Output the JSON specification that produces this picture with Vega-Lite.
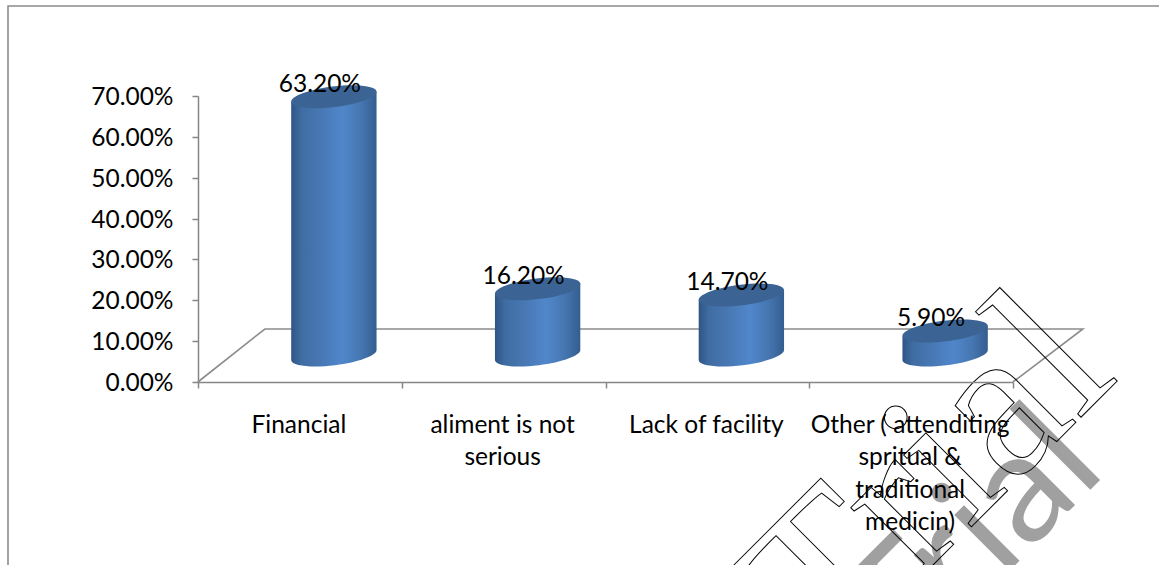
{
  "$schema": "https://vega.github.io/schema/vega-lite/v6.json",
  "width": 1153,
  "height": 561,
  "padding": {"left": 8, "top": 6, "right": -2, "bottom": -2},
  "autosize": {"type": "none"},
  "background": "#ffffff",
  "view": {"stroke": "#8c8c8c", "strokeWidth": 1.6, "fill": "#ffffff"},
  "config": {"font": "Lato"},
  "data": {
    "values": [
      {"reason": "Financial", "share": 0.632},
      {"reason": "aliment is not serious", "share": 0.162},
      {"reason": "Lack of facility", "share": 0.147},
      {"reason": "Other ( attenditing spritual & traditional medicin)", "share": 0.059}
    ]
  },
  "encoding": {
    "x": {
      "field": "reason",
      "type": "nominal",
      "sort": ["Financial", "aliment is not serious", "Lack of facility", "Other ( attenditing spritual & traditional medicin)"],
      "title": null,
      "scale": {"type": "band", "range": [190, 1005], "paddingInner": 0, "paddingOuter": 0},
      "axis": {
        "orient": "bottom",
        "offset": -185,
        "zindex": 1,
        "labelAngle": 0,
        "labelFont": "Lato",
        "labelFontSize": 24.5,
        "labelColor": "#000000",
        "labelPadding": 25,
        "labelOffset": -1.5,
        "labelLimit": 400,
        "labelLineHeight": 32.5,
        "labelOverlap": false,
        "labelExpr": "datum.label == 'aliment is not serious' ? ['aliment is not', 'serious'] : indexof(datum.label, 'Other') == 0 ? ['Other ( attenditing', 'spritual &', 'traditional', 'medicin)'] : datum.label",
        "tickBand": "extent",
        "tickSize": 6,
        "tickColor": "#868686",
        "tickWidth": 1.5,
        "domainColor": "#868686",
        "domainWidth": 1.5
      }
    },
    "y": {
      "field": "share",
      "type": "quantitative",
      "title": null,
      "scale": {"domain": [0, 0.7], "range": [376, 90], "nice": false},
      "axis": {
        "orient": "left",
        "offset": -190,
        "values": [0, 0.1, 0.2, 0.3, 0.4, 0.5, 0.6, 0.7],
        "format": ".2%",
        "grid": false,
        "labelFont": "Lato",
        "labelFontSize": 24.5,
        "labelColor": "#000000",
        "labelPadding": 19,
        "labelOffset": 1.5,
        "tickSize": 6,
        "tickColor": "#868686",
        "tickWidth": 1.5,
        "domainColor": "#868686",
        "domainWidth": 1.5
      }
    }
  },
  "layer": [
    {
      "description": "Floor of the 3D plot, anchored at the zero line",
      "data": {"values": [{"reason": "Financial", "share": 0}]},
      "mark": {
        "type": "point",
        "filled": false,
        "opacity": 1,
        "stroke": "#8c8c8c",
        "strokeWidth": 1.6,
        "size": 4,
        "shape": "M-102,0 L-35,-53 L783,-53 L713,0"
      }
    },
    {
      "description": "Cylinder body, its height taken from the y scale",
      "mark": {
        "type": "point",
        "filled": true,
        "opacity": 1,
        "size": 7396,
        "xOffset": 34,
        "yOffset": -27,
        "shape": {"expr": "'M0.9925,-0.1219 L-0.9925,0.1219 l0,' + ((scale('y', 0) - scale('y', datum.share)) / 43) + ' c0.0161,0.1316 0.4735,0.1836 1.0217,0.1163 c0.5482,-0.0673 0.9794,-0.2285 0.9633,-0.3601 Z'"},
        "fill": {
          "gradient": "linear",
          "x1": 0, "y1": 0, "x2": 1, "y2": 0,
          "stops": [
            {"offset": 0, "color": "#2f5586"},
            {"offset": 0.12, "color": "#3f6ca2"},
            {"offset": 0.35, "color": "#4878b4"},
            {"offset": 0.6, "color": "#5087cb"},
            {"offset": 0.82, "color": "#4676b0"},
            {"offset": 1, "color": "#345d90"}
          ]
        }
      }
    },
    {
      "description": "Cylinder top",
      "mark": {
        "type": "point",
        "filled": true,
        "opacity": 1,
        "size": 7396,
        "xOffset": 34,
        "yOffset": -27,
        "fill": "#3b6494",
        "shape": "M0.9925,-0.1219 C1.0086,0.0097 0.5774,0.1709 0.0292,0.2382 C-0.519,0.3055 -0.9764,0.2535 -0.9925,0.1219 C-1.0086,-0.0097 -0.5774,-0.1709 -0.0292,-0.2382 C0.519,-0.3055 0.9764,-0.2535 0.9925,-0.1219 Z"
      }
    },
    {
      "description": "Grey Trial stamp",
      "data": {"values": [{"reason": "Other ( attenditing spritual & traditional medicin)", "share": 0, "stamp": "Trial"}]},
      "mark": {
        "type": "text",
        "font": "Lato",
        "fontSize": 155,
        "color": "#a0a0a0",
        "angle": -45,
        "align": "right",
        "baseline": "alphabetic",
        "xOffset": 197,
        "yOffset": 90
      },
      "encoding": {
        "text": {"field": "stamp", "type": "nominal"}
      }
    },
    {
      "description": "Value labels",
      "mark": {
        "type": "text",
        "font": "Lato",
        "fontSize": 24.5,
        "color": "#000000",
        "baseline": "middle",
        "xOffset": 20,
        "yOffset": -39
      },
      "encoding": {
        "text": {"field": "share", "type": "quantitative", "format": ".2%"}
      }
    },
    {
      "description": "Outlined Trial stamp",
      "data": {"values": [{"reason": "Other ( attenditing spritual & traditional medicin)", "share": 0, "stamp": "Trial"}]},
      "mark": {
        "type": "text",
        "font": "Liberation Sans Narrow",
        "fontSize": 215,
        "fillOpacity": 0,
        "stroke": "#000000",
        "strokeWidth": 1,
        "angle": -45,
        "align": "right",
        "baseline": "alphabetic",
        "xOffset": 209,
        "yOffset": -4
      },
      "encoding": {
        "text": {"field": "stamp", "type": "nominal"}
      }
    }
  ]
}
